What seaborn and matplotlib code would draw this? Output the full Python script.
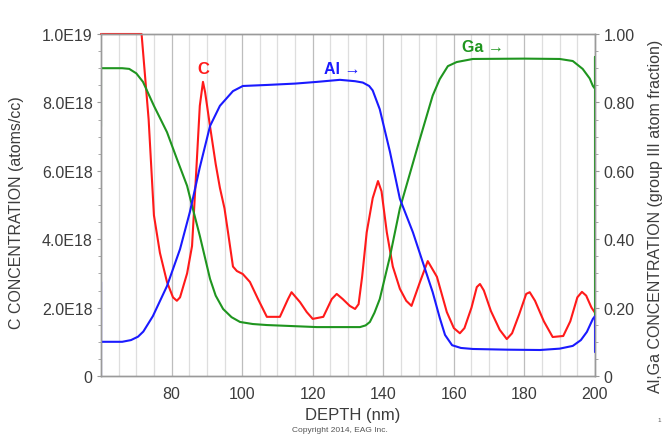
import numpy as np
import matplotlib
matplotlib.use("Agg")
import matplotlib.pyplot as plt
import seaborn as sns
from matplotlib.ticker import FixedLocator, MultipleLocator

# ---- data ----
c_depth = [60, 71.5, 73.5, 75.0, 76.7, 78.7, 80.4, 81.5, 82.4, 84.4, 85.8, 87.0, 88.0, 88.9,
           89.5, 90.9, 92.5, 93.7, 95.0, 96.0, 97.4, 98.5, 100.2, 102.2, 104.5, 107.0, 110.7,
           113.0, 114.0, 116.4, 118.3, 120.0, 123.0, 125.4, 126.8, 128.5, 130.5, 132.0, 133.0,
           134.0, 135.3, 137.0, 138.5, 139.5, 141.0, 142.7, 144.7, 146.5, 148.0, 150.4, 152.6,
           155.2, 158.0, 160.0, 161.7, 163.0, 165.0, 166.5, 167.4, 168.5, 170.5, 173.0, 175.0,
           176.5, 178.5, 180.5, 181.5, 183.0, 185.5, 188.0, 191.0, 193.0, 195.0, 196.3, 197.5,
           199.0, 200.0]
c_conc_e18 = [10.0, 10.0, 7.5, 4.7, 3.6, 2.75, 2.3, 2.2, 2.3, 3.0, 3.8, 6.0, 7.9, 8.6,
              8.3, 7.3, 6.2, 5.5, 4.9, 4.2, 3.2, 3.07, 2.98, 2.75, 2.25, 1.73, 1.73,
              2.25, 2.45, 2.16, 1.87, 1.67, 1.73, 2.25, 2.4, 2.25, 2.05, 1.96, 2.1,
              2.9, 4.2, 5.2, 5.7, 5.4, 4.2, 3.2, 2.55, 2.2, 2.05, 2.75, 3.36,
              2.9, 1.87, 1.4, 1.25, 1.4, 2.0, 2.6, 2.69, 2.5, 1.9, 1.35, 1.08,
              1.25, 1.8, 2.4, 2.45, 2.2, 1.6, 1.14, 1.17, 1.6, 2.3, 2.46, 2.35,
              2.0, 1.85]

al_depth = [60, 60, 60, 66, 68.5, 70.5, 72, 74.7, 78.7, 82.4, 85.2, 88, 90.9, 93.7, 97.4,
            100.2, 107, 115, 121.2, 127.7, 132, 134.2, 136, 137, 139, 141.9, 144.7, 148.4,
            154, 156, 157.5, 159.5, 162, 165.4, 175, 184.4, 190, 193.7, 196, 197.7, 199.4,
            200, 200]
al_frac = [0.0, 0.275, 0.10, 0.10, 0.105, 0.115, 0.13, 0.175, 0.263, 0.371, 0.48, 0.61, 0.731,
           0.79, 0.833, 0.848, 0.851, 0.855, 0.86, 0.866, 0.862, 0.858, 0.848, 0.835, 0.78,
           0.655, 0.518, 0.42, 0.245, 0.17, 0.12, 0.09, 0.082, 0.079, 0.077, 0.076, 0.08,
           0.088, 0.105, 0.129, 0.167, 0.175, 0.07]

ga_depth = [60, 60, 66, 68, 70, 71.9, 75, 78.7, 81.5, 84.4, 86, 88, 90.9, 92.5, 94.6, 97,
            99.4, 103, 107, 121.2, 133.4, 135, 136.2, 137.5, 139, 141.9, 144.7, 150, 154,
            156, 158.3, 160.8, 165.4, 180, 190, 193.7, 196.5, 198.5, 199.4, 200, 200, 200]
ga_frac = [0.73, 0.90, 0.90, 0.898, 0.885, 0.86, 0.79, 0.713, 0.635, 0.556, 0.49, 0.41, 0.284,
           0.235, 0.196, 0.172, 0.158, 0.152, 0.149, 0.143, 0.143, 0.148, 0.158, 0.185, 0.225,
           0.35, 0.49, 0.68, 0.82, 0.868, 0.906, 0.918, 0.927, 0.928, 0.927, 0.921, 0.898,
           0.87, 0.848, 0.84, 0.933, 0.14]

x_ticks = [80, 100, 120, 140, 160, 180, 200]
left_ticks = [0, 2e18, 4e18, 6e18, 8e18, 1e19]
left_labels = ["0", "2.0E18", "4.0E18", "6.0E18", "8.0E18", "1.0E19"]
right_ticks = [0, 0.2, 0.4, 0.6, 0.8, 1.0]
right_labels = ["0", "0.20", "0.40", "0.60", "0.80", "1.00"]

# ---- style ----
sns.set_theme(style="white")
plt.rcParams['font.family'] = ['Liberation Sans', 'DejaVu Sans']

RED = "#ff1a1a"
BLUE = "#1a1aff"
GREEN = "#1f951f"
TXT = "#3c3c3c"
SPINE = "#9a9a9a"

fig = plt.figure(figsize=(6.63, 4.39), dpi=100)
ax = fig.add_axes([101/663, 1 - 377/439, 494/663, 342/439])
ax2 = ax.twinx()

c_vals = [v * 1e18 for v in c_conc_e18]
sns.lineplot(x=c_depth, y=c_vals, ax=ax, sort=False, estimator=None, color=RED, lw=1.5)
sns.lineplot(x=ga_depth, y=ga_frac, ax=ax2, sort=False, estimator=None, color=GREEN, lw=1.5)
sns.lineplot(x=al_depth, y=al_frac, ax=ax2, sort=False, estimator=None, color=BLUE, lw=1.5)
for ln in ax.lines:
    ln.set_clip_on(False)

ax.set_xlim(60, 200)
ax.set_ylim(0, 1e19)
ax2.set_ylim(0, 1.0)

ax.set_xticks(x_ticks)
ax.set_xticklabels([str(t) for t in x_ticks])
ax.xaxis.set_minor_locator(FixedLocator([x for x in range(65, 200, 5) if x % 20 != 0]))
ax.grid(which='major', axis='x', color='#bdbdbd', lw=0.9)
ax.grid(which='minor', axis='x', color='#dedede', lw=0.9)
ax.set_axisbelow(True)

ax.set_yticks(left_ticks)
ax.set_yticklabels(left_labels)
ax.yaxis.set_minor_locator(MultipleLocator(5e17))
ax2.set_yticks(right_ticks)
ax2.set_yticklabels(right_labels)
ax2.yaxis.set_minor_locator(MultipleLocator(0.05))

for a in (ax, ax2):
    for s in a.spines.values():
        s.set_color(SPINE)
        s.set_linewidth(1.0)
    a.tick_params(axis='y', which='major', direction='out', length=3, width=0.8,
                  color=SPINE, labelsize=11.5, labelcolor=TXT, pad=3)
    a.tick_params(axis='y', which='minor', direction='out', length=2, width=0.6, color=SPINE)
ax.tick_params(axis='x', which='both', length=0, labelsize=11.5, labelcolor=TXT, pad=7)
ax2.tick_params(axis='y', left=False, right=True, which='both')
ax.tick_params(axis='y', left=True, right=False, which='both')

ax.set_xlabel("DEPTH (nm)", fontsize=12, color=TXT)
ax.xaxis.set_label_coords(0.51, -0.092)
ax.set_ylabel("C CONCENTRATION (atoms/cc)", fontsize=11.5, color=TXT)
ax.yaxis.set_label_coords(-0.155, 0.48)
ax2.set_ylabel("Al,Ga CONCENTRATION (group III atom fraction)", fontsize=11.5, color=TXT,
               rotation=90)
ax2.yaxis.set_label_coords(1.108, 0.47)

ax.text(89, 8.98e18, "C", color=RED, fontsize=12, fontweight='bold', ha='center', va='center')
ax.text(128.3, 8.98e18, "Al \u2192", color=BLUE, fontsize=11.5, fontweight='bold',
        ha='center', va='center')
ax.text(168.2, 9.62e18, "Ga \u2192", color=GREEN, fontsize=11.5, fontweight='bold',
        ha='center', va='center')

fig.text(340/663, 1 - 431/439, "Copyright 2014, EAG Inc.", fontsize=6, color='#555555',
         ha='center', va='center')
fig.text(659/663, 1 - 421/439, "1", fontsize=4.5, color='#555555', ha='center', va='center')

fig.savefig("out.png", dpi=100)
